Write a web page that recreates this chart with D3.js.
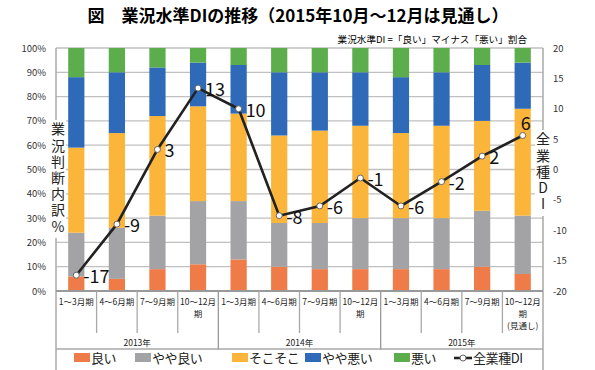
<!DOCTYPE html>
<html>
<head>
<meta charset="utf-8">
<script src="https://cdn.jsdelivr.net/npm/d3@7"></script>
<style>
  body { margin: 0; background: #fff; }
  svg { font-family: "Noto Sans CJK JP", "Noto Sans", sans-serif; }
  .vtitle { writing-mode: vertical-rl; text-orientation: upright; }
</style>
</head>
<body>
<div id="chart"></div>
<script>
// categories
const periods = ['1～3月期', '4～6月期', '7～9月期', '10～12月|期',
                 '1～3月期', '4～6月期', '7～9月期', '10～12月|期',
                 '1～3月期', '4～6月期', '7～9月期', '10～12月|期|(見通し)'];
const years = ['2013年', '2014年', '2015年'];

// series values (% share of answers)
const good     = [6, 5, 9, 11, 13, 10, 9, 9, 9, 9, 10, 7];
const fairGood = [18, 21, 22, 26, 24, 18, 19, 21, 21, 21, 23, 24];
const soso     = [35, 39, 41, 39, 36, 36, 38, 38, 35, 38, 37, 44];
const fairBad  = [29, 25, 20, 18, 20, 26, 24, 22, 23, 22, 23, 19];
const bad      = [12, 10, 8, 6, 7, 10, 10, 10, 12, 10, 7, 6];
// DI (right axis)
const di = [-17.4, -9, 3.3, 13.4, 10, -7.6, -6, -1.4, -6, -2, 2.2, 5.6];

const seriesNames = ['良い', 'やや良い', 'そこそこ', 'やや悪い', '悪い'];
const leftTicks = [0, 10, 20, 30, 40, 50, 60, 70, 80, 90, 100];
const rightTicks = [-20, -15, -10, -5, 0, 5, 10, 15, 20];

const colors = ['#ef7c48', '#a3a3a6', '#fbb53b', '#2e6ab7', '#5cad4c'];

const W = 595, H = 370;
const plot = {left: 56, right: 543, top: 48, bottom: 291};

const svg = d3.select('#chart').append('svg')
    .attr('width', W).attr('height', H);

const x = d3.scaleBand()
    .domain(d3.range(periods.length))
    .range([plot.left, plot.right])
    .paddingInner(0.6)
    .paddingOuter(0.3);
const step = x.step();

const y = d3.scaleLinear().domain([0, 100]).range([plot.bottom, plot.top]);
const y2 = d3.scaleLinear().domain([-20, 20]).range([plot.bottom, plot.top]);

// title
svg.append('text')
    .attr('x', 298).attr('y', 22)
    .attr('text-anchor', 'middle')
    .style('font-size', '17px').style('font-weight', 'bold')
    .text('図　業況水準DIの推移（2015年10月～12月は見通し）');

svg.append('text')
    .attr('x', 527).attr('y', 43)
    .attr('text-anchor', 'end')
    .style('font-size', '9.6px')
    .text('業況水準DI =「良い」マイナス「悪い」割合');

// gridlines
svg.append('g')
    .selectAll('line')
    .data(leftTicks.filter(d => d > 0))
    .enter()
    .append('line')
    .attr('x1', plot.left).attr('x2', plot.right)
    .attr('y1', d => y(d)).attr('y2', d => y(d))
    .attr('stroke', '#c0c0c0').attr('stroke-width', 1.3);

// stacked bars
const rows = periods.map((p, i) => ({i: i, v: [good[i], fairGood[i], soso[i], fairBad[i], bad[i]]}));
const stack = d3.stack().keys(d3.range(5)).value((d, k) => d.v[k]);
const layers = stack(rows);

svg.append('g')
    .selectAll('g')
    .data(layers)
    .enter()
    .append('g')
    .attr('fill', (d, k) => colors[k])
    .selectAll('rect')
    .data(d => d)
    .enter()
    .append('rect')
    .attr('x', d => x(d.data.i))
    .attr('width', x.bandwidth())
    .attr('y', d => y(d[1]))
    .attr('height', d => y(d[0]) - y(d[1]));

// axes lines
const axisColor = '#a8a8a8';
svg.append('line')
    .attr('x1', plot.left).attr('x2', plot.left)
    .attr('y1', plot.top).attr('y2', H)
    .attr('stroke', axisColor).attr('stroke-width', 1.5);
svg.append('line')
    .attr('x1', plot.right).attr('x2', plot.right)
    .attr('y1', plot.top).attr('y2', H)
    .attr('stroke', axisColor).attr('stroke-width', 1.5);
svg.append('line')
    .attr('x1', plot.left).attr('x2', plot.right)
    .attr('y1', plot.bottom).attr('y2', plot.bottom)
    .attr('stroke', '#999').attr('stroke-width', 2);

// left axis labels
svg.append('g')
    .selectAll('text')
    .data(leftTicks)
    .enter()
    .append('text')
    .attr('x', 46).attr('y', d => y(d) + 3.5)
    .attr('text-anchor', 'end')
    .style('font-size', '9.5px').style('fill', '#333')
    .text(d => d + '%');

// right axis labels
svg.append('g')
    .selectAll('text')
    .data(rightTicks)
    .enter()
    .append('text')
    .attr('x', 553).attr('y', d => y2(d) + 3.5)
    .attr('text-anchor', 'start')
    .style('font-size', '9.5px').style('fill', '#333')
    .text(d => d);

// category separators
svg.append('g')
    .selectAll('line')
    .data(d3.range(1, periods.length).filter(i => i % 4 !== 0))
    .enter()
    .append('line')
    .attr('x1', i => plot.left + i * step).attr('x2', i => plot.left + i * step)
    .attr('y1', plot.bottom).attr('y2', 333)
    .attr('stroke', axisColor).attr('stroke-width', 1.3);

// year separators
svg.append('g')
    .selectAll('line')
    .data([4, 8])
    .enter()
    .append('line')
    .attr('x1', i => plot.left + i * step).attr('x2', i => plot.left + i * step)
    .attr('y1', plot.bottom).attr('y2', 350)
    .attr('stroke', '#999').attr('stroke-width', 1.3);
svg.append('line')
    .attr('x1', plot.left).attr('x2', plot.right)
    .attr('y1', 349).attr('y2', 349)
    .attr('stroke', axisColor).attr('stroke-width', 1.3);

// category labels
const catLabels = svg.append('g')
    .selectAll('text')
    .data(periods)
    .enter()
    .append('text')
    .attr('text-anchor', 'middle')
    .style('font-size', '8.5px').style('fill', '#222');
catLabels.each(function(d, i) {
    const t = d3.select(this);
    d.split('|').forEach((part, j) => {
        t.append('tspan')
            .attr('x', x(i) + x.bandwidth() / 2)
            .attr('y', 305 + j * 12)
            .text(part);
    });
});

// year labels
svg.append('g')
    .selectAll('text')
    .data(years)
    .enter()
    .append('text')
    .attr('x', (d, k) => plot.left + (k * 4 + 2) * step)
    .attr('y', 346)
    .attr('text-anchor', 'middle')
    .style('font-size', '8.5px').style('fill', '#222')
    .text(d => d);

// vertical axis titles with white backing
function verticalTitle(label, cx, y0, len) {
    svg.append('rect')
        .attr('x', cx - 8).attr('y', y0 - 2)
        .attr('width', 16).attr('height', len + 4)
        .attr('fill', '#fff');
    svg.append('text')
        .attr('class', 'vtitle')
        .attr('x', cx).attr('y', y0)
        .style('font-size', '14px').style('fill', '#222')
        .style('letter-spacing', '2.2px')
        .text(label);
}
verticalTitle('業況判断内訳%', 58, 122, 114);
verticalTitle('全業種DI', 543, 132, 82);

// DI line
const cx = i => x(i) + x.bandwidth() / 2;
svg.append('path')
    .datum(di)
    .attr('fill', 'none')
    .attr('stroke', '#222')
    .attr('stroke-width', 2.6)
    .attr('d', d3.line().x((d, i) => cx(i)).y(d => y2(d)));

svg.append('g')
    .selectAll('circle')
    .data(di)
    .enter()
    .append('circle')
    .attr('cx', (d, i) => cx(i))
    .attr('cy', d => y2(d))
    .attr('r', 3)
    .attr('fill', '#fff')
    .attr('stroke', '#666')
    .attr('stroke-width', 1);

svg.append('g')
    .selectAll('text')
    .data(di)
    .enter()
    .append('text')
    .attr('x', (d, i) => i === di.length - 1 ? cx(i) + 3 : cx(i) + 7)
    .attr('y', (d, i) => i === di.length - 1 ? y2(d) - 5 : y2(d) + 8)
    .attr('text-anchor', (d, i) => i === di.length - 1 ? 'middle' : 'start')
    .style('font-size', '18px').style('fill', '#111')
    .text(d => Math.round(d));

// legend
const legendX = [74, 135, 232, 305, 394];
const legend = svg.append('g');
seriesNames.forEach((name, k) => {
    legend.append('rect')
        .attr('x', legendX[k]).attr('y', 353)
        .attr('width', 16).attr('height', 9)
        .attr('fill', colors[k]);
    legend.append('text')
        .attr('x', legendX[k] + 17).attr('y', 362.5)
        .style('font-size', '13px').style('fill', '#222')
        .style('letter-spacing', '-0.4px')
        .text(name);
});
legend.append('line')
    .attr('x1', 454).attr('x2', 472)
    .attr('y1', 358).attr('y2', 358)
    .attr('stroke', '#222').attr('stroke-width', 2.6);
legend.append('circle')
    .attr('cx', 463).attr('cy', 358).attr('r', 3)
    .attr('fill', '#fff').attr('stroke', '#666');
legend.append('text')
    .attr('x', 473).attr('y', 362.5)
    .style('font-size', '13px').style('fill', '#222')
    .style('letter-spacing', '-0.4px')
    .text('全業種DI');
</script>
</body>
</html>
